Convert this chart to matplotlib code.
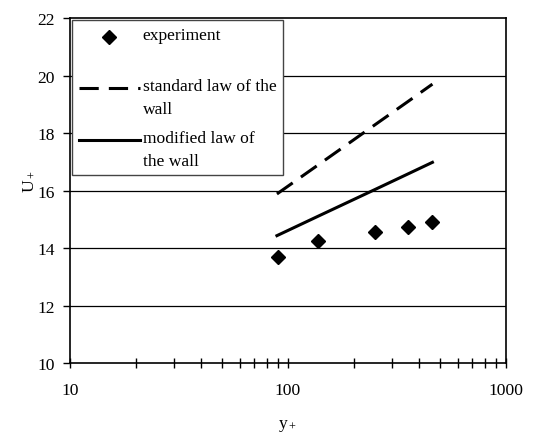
import matplotlib
matplotlib.use('Agg')
import numpy as np
import matplotlib.pyplot as plt
from matplotlib.ticker import LogLocator, NullFormatter, FixedLocator

plt.rcParams['font.family'] = 'Liberation Serif'
plt.rcParams['mathtext.fontset'] = 'custom'
plt.rcParams['mathtext.rm'] = 'Liberation Serif'
plt.rcParams['mathtext.it'] = 'Liberation Serif'

# dados
y_exp = [90, 137, 250, 356, 460]
u_exp = [13.68, 14.25, 14.55, 14.74, 14.89]

y_lei = [89, 137, 250, 356, 460]
u_padrao = [15.88, 16.88, 18.28, 19.10, 19.70]
u_modif = [14.43, 15.10, 16.03, 16.58, 16.98]

fs = 12.6

fig = plt.figure(figsize=(5.44, 4.35), dpi=100)
ax = fig.add_axes([0.1287, 0.1632, 0.8013, 0.7931])

ax.set_xscale('log')
ax.set_xlim(10, 1000)
ax.set_ylim(10, 22)

for v in [12, 14, 16, 18, 20]:
    ax.axhline(v, color='black', lw=0.9, zorder=1)

ax.plot(y_exp, u_exp, 'D', color='black', ms=7.5, label='experiment\n', zorder=3)
ax.plot(y_lei, u_padrao, color='black', lw=2.2, dashes=(6.3, 3.3),
        label='standard law of the\nwall', zorder=3)
ax.plot(y_lei, u_modif, color='black', lw=2.2, label='modified law of\nthe wall', zorder=3)

ax.set_yticks([10, 12, 14, 16, 18, 20, 22])
ax.xaxis.set_major_locator(FixedLocator([10, 100, 1000]))
ax.xaxis.set_minor_locator(LogLocator(base=10, subs=range(2, 10)))
ax.xaxis.set_minor_formatter(NullFormatter())
ax.set_xticklabels(['10', '100', '1000'])
ax.tick_params(axis='x', which='both', direction='inout', length=7, width=1,
               labelsize=fs, pad=10)
ax.tick_params(axis='y', direction='out', length=5, width=1, labelsize=fs, pad=6)

for s in ax.spines.values():
    s.set_linewidth(1.2)
    s.set_color('black')

ax.set_xlabel('y$_+$', fontsize=fs, labelpad=14)
ax.set_ylabel('U$_+$', fontsize=fs)
ax.yaxis.set_label_coords(-0.074, 0.53)

leg = ax.legend(loc='upper left', bbox_to_anchor=(0.005, 0.994), borderaxespad=0,
                fancybox=False, edgecolor='#444444', framealpha=1, fontsize=fs,
                handlelength=3.5, labelspacing=0.7, borderpad=0.38,
                handletextpad=0.15)
leg.get_frame().set_linewidth(1.0)
for t in leg.get_texts():
    t.set_linespacing(1.6)
# no Excel o simbolo fica alinhado com a primeira linha do texto
for h in leg.legend_handles:
    h.set_ydata(np.asarray(h.get_ydata()) + 0.545 * fs)

fig.savefig('out.png', dpi=100)
